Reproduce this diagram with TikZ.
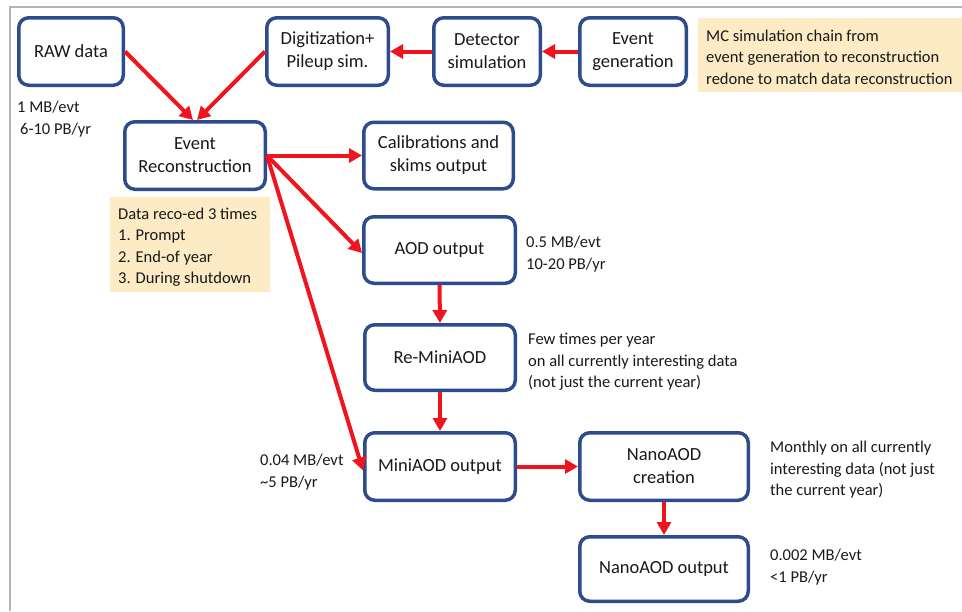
\documentclass[tikz,border=0pt]{standalone}
\usepackage{fontspec}
\setmainfont{Carlito}
\usetikzlibrary{arrows.meta}
\definecolor{boxblue}{HTML}{2E4B8C}
\definecolor{arrred}{HTML}{F0141E}
\definecolor{notebg}{HTML}{FCEBC4}
\definecolor{framegray}{HTML}{B4B4B8}
\begin{document}
\begin{tikzpicture}[x=1pt,y=-1pt,
  box/.style={draw=boxblue, line width=3.5pt, rounded corners=10pt, fill=white,
    inner sep=0pt, align=center, text=black!90, font=\fontsize{18.5}{23}\selectfont},
  arr/.style={draw=arrred, line width=4pt, -{Triangle[length=13pt,width=14pt]}},
  notebox/.style={fill=notebg, inner sep=0pt, anchor=north west},
  ann/.style={align=left, inner sep=0pt, text=black!90, font=\fontsize{16.5}{21.5}\selectfont}]
\useasboundingbox (0,0) rectangle (962,611);
\draw[framegray, line width=1.5pt] (10,611) -- (10,7) -- (962,7);

% notes
\node[notebox, minimum width=264pt, minimum height=74pt] (mcbg) at (698,18) {};
\node[ann, anchor=west] (mctxt) at ([xshift=8pt,yshift=-2pt]mcbg.west) {MC simulation chain from\\event generation to reconstruction\\redone to match data reconstruction};
\node[notebox, minimum width=160pt, minimum height=95pt] (recobg) at (110,197) {};
\node[ann, anchor=west] (recotxt) at ([xshift=8pt,yshift=-2.5pt]recobg.west) {Data reco-ed 3 times\\1. Prompt\\2. End-of year\\3. During shutdown};

% boxes
\node[box, minimum width=104.5pt, minimum height=67.5pt] (raw) at (71,51.5) {RAW data};
\node[box, minimum width=121.5pt, minimum height=67.5pt] (digi) at (327.5,51.5) {Digitization+\\Pileup sim.};
\node[box, minimum width=106.5pt, minimum height=67.5pt] (det) at (487,51.5) {Detector\\simulation};
\node[box, minimum width=106.5pt, minimum height=67.5pt] (gen) at (633,51.5) {Event\\generation};
\node[box, minimum width=140.5pt, minimum height=67.5pt] (reco) at (195,155.5) {Event\\Reconstruction};
\node[box, minimum width=149.5pt, minimum height=66.5pt] (calib) at (438.5,155.5) {Calibrations and\\skims output};
\node[box, minimum width=151.5pt, minimum height=66.5pt] (aod) at (439.5,250) {AOD output};
\node[box, minimum width=150.5pt, minimum height=65.5pt] (remini) at (440,357.5) {Re-MiniAOD};
\node[box, minimum width=150.5pt, minimum height=67.5pt] (mini) at (440,466.5) {MiniAOD output};
\node[box, minimum width=168.5pt, minimum height=67.5pt] (nanoc) at (664,466.5) {NanoAOD\\creation};
\node[box, minimum width=168.5pt, minimum height=64.5pt] (nanoo) at (664,569) {NanoAOD output};

% annotations
\node[ann, anchor=north west] (a1) at (17,101) {1 MB/evt\\\hspace*{3pt}6-10 PB/yr};
\node[ann, anchor=north west] (a2) at (526,236) {0.5 MB/evt\\10-20 PB/yr};
\node[ann, anchor=north west] (a3) at (528,333) {Few times per year\\on all currently interesting data\\(not just the current year)};
\node[ann, anchor=north west] (a4) at (260,454) {0.04 MB/evt\\\textasciitilde5 PB/yr};
\node[ann, anchor=north west] (a5) at (770,441) {Monthly on all currently\\interesting data (not just\\the current year)};
\node[ann, anchor=north west] (a6) at (770,549) {0.002 MB/evt\\<1 PB/yr};

% arrows
\draw[arr] (raw.east) -- ([xshift=-2pt]reco.north);
\draw[arr] (digi.west) -- ([xshift=2pt]reco.north);
\draw[arr] (det.west) -- (digi.east);
\draw[arr] (gen.west) -- (det.east);
\draw[arr] (reco.east) -- (calib.west);
\draw[arr] (reco.east) -- ([yshift=-3pt]aod.west);
\draw[arr] (reco.east) -- ([yshift=-4pt]mini.west);
\draw[arr] (aod.south) -- (remini.north);
\draw[arr] (remini.south) -- (mini.north);
\draw[arr] (mini.east) -- (nanoc.west);
\draw[arr] (nanoc.south) -- (nanoo.north);
\end{tikzpicture}
\end{document}
